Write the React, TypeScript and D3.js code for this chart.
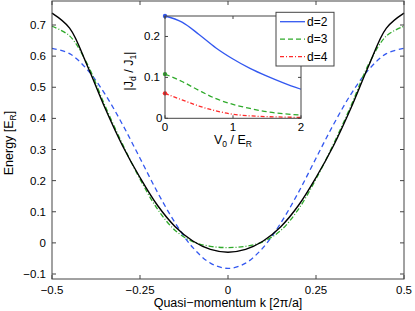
import React from "react";
import * as d3 from "d3";

// main plot: band energy vs quasi-momentum
const kValues = [
  -0.5, -0.45, -0.4, -0.35, -0.3, -0.25, -0.2, -0.15, -0.1, -0.05, 0,
  0.05, 0.1, 0.15, 0.2, 0.25, 0.3, 0.35, 0.4, 0.45, 0.5,
];
const exactBand = [
  0.738, 0.69, 0.57, 0.435, 0.313, 0.21, 0.12, 0.052, 0.006, -0.021, -0.03,
  -0.021, 0.006, 0.052, 0.12, 0.21, 0.313, 0.435, 0.57, 0.69, 0.738,
];
const nearestBand = [
  0.625, 0.608, 0.557, 0.479, 0.381, 0.272, 0.162, 0.064, -0.015, -0.065, -0.082,
  -0.065, -0.015, 0.064, 0.162, 0.272, 0.381, 0.479, 0.557, 0.608, 0.625,
];
const longerBand = [
  0.696, 0.665, 0.575, 0.442, 0.318, 0.205, 0.108, 0.04, 0.004, -0.011, -0.015,
  -0.011, 0.004, 0.04, 0.108, 0.205, 0.318, 0.442, 0.575, 0.665, 0.696,
];
const xTicks = [-0.5, -0.25, 0, 0.25, 0.5];
const yTicks = [-0.1, 0, 0.1, 0.2, 0.3, 0.4, 0.5, 0.6, 0.7];

// inset: |J_d / J_1| vs V0
const v0Values = [0, 0.25, 0.5, 0.75, 1, 1.25, 1.5, 1.75, 2];
const ratioD2 = [0.25, 0.235, 0.205, 0.172, 0.145, 0.122, 0.103, 0.086, 0.071];
const ratioD3 = [0.108, 0.09, 0.068, 0.048, 0.034, 0.024, 0.016, 0.011, 0.008];
const ratioD4 = [0.061, 0.045, 0.03, 0.018, 0.01, 0.006, 0.004, 0.003, 0.002];
const insetXTicks = [0, 1, 2];
const insetYTicks = [0, 0.1, 0.2];
const legendLabels = ["d=2", "d=3", "d=4"];

const font = "'Liberation Sans', Arial, sans-serif";
const axisColor = "#444";
const blue = "#3358f0";
const green = "#2faa2a";
const red = "#ff2a2a";

export default function App() {
  const W = 415, H = 311;
  const left = 52, right = 404, top = 1, bottom = 279;

  const x = d3.scaleLinear().domain([-0.5, 0.5]).range([left, right]);
  const y = d3.scaleLinear().domain([-0.1, 0.7]).range([274, 25]);

  const line = (vals: number[]) =>
    d3.line<number>()
      .x((_, i) => x(kValues[i]))
      .y((d) => y(d))
      .curve(d3.curveCatmullRom)(vals) || "";

  // inset
  const iLeft = 165, iRight = 301, iTop = 16, iBottom = 118.3;
  const ix = d3.scaleLinear().domain([0, 2]).range([iLeft, iRight]);
  const iy = d3.scaleLinear().domain([0, 0.25]).range([iBottom, iTop]);
  const iline = (vals: number[]) =>
    d3.line<number>()
      .x((_, i) => ix(v0Values[i]))
      .y((d) => iy(d))
      .curve(d3.curveMonotoneX)(vals) || "";

  const insetSeries = [
    { vals: ratioD2, color: blue, dash: "none" },
    { vals: ratioD3, color: green, dash: "5,3" },
    { vals: ratioD4, color: red, dash: "4,2,1,2" },
  ];

  const tick = 4;
  const fmt = (t: number) => (t < 0 ? "\u2212" + Math.abs(t) : String(t));

  return (
    <svg width={W} height={H} style={{ position: "absolute", left: 0, top: 0, background: "#fff" }}
      fontFamily={font}>
      <rect x={0} y={0} width={W} height={H} fill="#fff" />

      {/* main curves */}
      <path d={line(nearestBand)} fill="none" stroke={blue} strokeWidth={1.3} strokeDasharray="5,3.5" />
      <path d={line(longerBand)} fill="none" stroke={green} strokeWidth={1.3} strokeDasharray="5,2,1,2" />
      <path d={line(exactBand)} fill="none" stroke="#000" strokeWidth={1.4} />

      {/* main axes box */}
      <rect x={left} y={top} width={right - left} height={bottom - top} fill="none" stroke={axisColor} strokeWidth={1} />
      {xTicks.map((t) => (
        <g key={"x" + t}>
          <line x1={x(t)} x2={x(t)} y1={bottom} y2={bottom - tick} stroke={axisColor} />
          <line x1={x(t)} x2={x(t)} y1={top} y2={top + tick} stroke={axisColor} />
          <text x={x(t)} y={294} fontSize={11.5} textAnchor="middle" fill="#000">{fmt(t)}</text>
        </g>
      ))}
      {yTicks.map((t) => (
        <g key={"y" + t}>
          <line x1={left} x2={left + tick} y1={y(t)} y2={y(t)} stroke={axisColor} />
          <line x1={right} x2={right - tick} y1={y(t)} y2={y(t)} stroke={axisColor} />
          <text x={46} y={y(t) + 4} fontSize={11.5} textAnchor="end" fill="#000">{fmt(t)}</text>
        </g>
      ))}
      <text x={228} y={307} fontSize={12.5} textAnchor="middle" fill="#000">
        Quasi{"\u2212"}momentum k [2{"\u03C0"}/a]
      </text>
      <text transform="translate(13,143) rotate(-90)" fontSize={12.5} textAnchor="middle" fill="#000">
        Energy [E<tspan fontSize={8.5} dy={3}>R</tspan><tspan dy={-3}>]</tspan>
      </text>

      {/* inset */}
      <rect x={iLeft} y={iTop} width={iRight - iLeft} height={iBottom - iTop} fill="#fff" />
      {insetSeries.map((s, i) => (
        <g key={"s" + i}>
          <path d={iline(s.vals)} fill="none" stroke={s.color} strokeWidth={1.3} strokeDasharray={s.dash} />
          <circle cx={ix(v0Values[0])} cy={iy(s.vals[0])} r={2.2} fill={s.color} />
        </g>
      ))}
      <rect x={iLeft} y={iTop} width={iRight - iLeft} height={iBottom - iTop} fill="none" stroke={axisColor} />
      {insetXTicks.map((t) => (
        <g key={"ix" + t}>
          <line x1={ix(t)} x2={ix(t)} y1={iBottom} y2={iBottom - 3} stroke={axisColor} />
          <line x1={ix(t)} x2={ix(t)} y1={iTop} y2={iTop + 3} stroke={axisColor} />
          <text x={ix(t)} y={131} fontSize={11.5} textAnchor="middle" fill="#000">{t}</text>
        </g>
      ))}
      {insetYTicks.map((t) => (
        <g key={"iy" + t}>
          <line x1={iLeft} x2={iLeft + 3} y1={iy(t)} y2={iy(t)} stroke={axisColor} />
          <line x1={iRight} x2={iRight - 3} y1={iy(t)} y2={iy(t)} stroke={axisColor} />
          <text x={t === 0 ? 162.5 : 160} y={iy(t) + 4} fontSize={11.5} textAnchor="end" fill="#000">{t}</text>
        </g>
      ))}
      <text x={233} y={144} fontSize={12.5} textAnchor="middle" fill="#000">
        V<tspan fontSize={8.5} dy={3}>0</tspan><tspan dy={-3}> / E</tspan><tspan fontSize={8.5} dy={3}>R</tspan>
      </text>
      <text transform="translate(133,71) rotate(-90)" fontSize={12.5} textAnchor="middle" fill="#000">
        |J<tspan fontSize={8.5} dy={3}>d</tspan><tspan dy={-3}> / J</tspan><tspan fontSize={8.5} dy={3}>1</tspan><tspan dy={-3}>|</tspan>
      </text>

      {/* legend */}
      <rect x={276} y={12.3} width={58} height={53.7} fill="#fff" stroke={axisColor} />
      {legendLabels.map((lab, i) => {
        const ly = 21.7 + i * 17.5;
        const s = insetSeries[i];
        return (
          <g key={lab}>
            <line x1={280} x2={305} y1={ly} y2={ly} stroke={s.color} strokeWidth={1.3} strokeDasharray={s.dash} />
            <text x={307} y={ly + 4.2} fontSize={12} fill="#000">{lab}</text>
          </g>
        );
      })}
    </svg>
  );
}
